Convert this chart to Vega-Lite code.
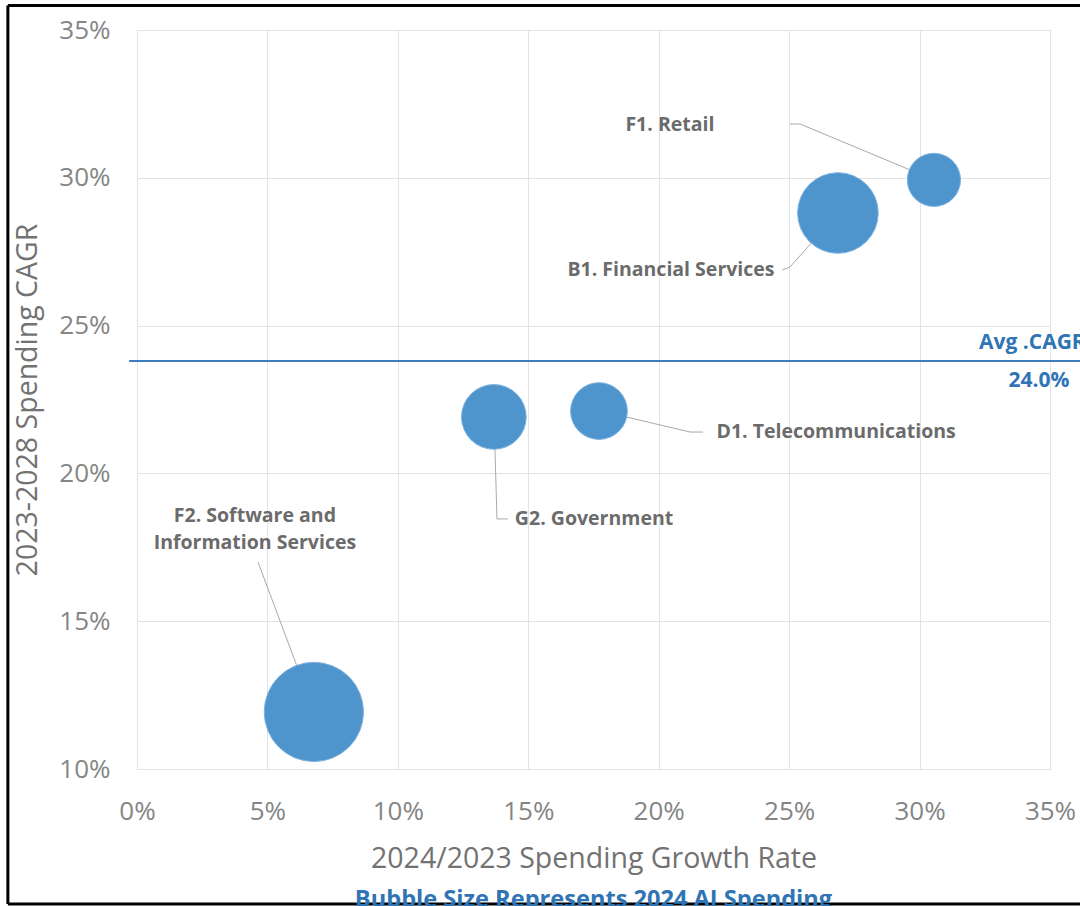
{
  "$schema": "https://vega.github.io/schema/vega-lite/v6.json",
  "width": 913,
  "height": 739,
  "autosize": {"type": "none"},
  "padding": {"left": 137, "top": 30, "right": 30, "bottom": 137},
  "background": "white",
  "config": {
    "font": "Open Sans",
    "view": {"stroke": "#d9d9d9", "strokeWidth": 1},
    "axis": {
      "domain": false,
      "ticks": false,
      "gridColor": "#e3e3e3",
      "labelColor": "#858585",
      "labelFont": "Open Sans",
      "labelFontSize": 26,
      "labelFlush": false,
      "labelOverlap": false,
      "titleColor": "#727272",
      "titleFont": "Open Sans",
      "titleFontSize": 28.5,
      "titleFontWeight": "normal"
    }
  },
  "title": {
    "text": "Bubble Size Represents 2024 AI Spending",
    "orient": "bottom",
    "anchor": "middle",
    "color": "#2f74b5",
    "fontSize": 23.6,
    "fontWeight": "bold",
    "font": "Open Sans",
    "offset": -18
  },
  "datasets": {
    "bubbles": [
      {"industry": "F1. Retail", "growth": 0.3055, "cagr": 0.2993, "spending": 28.7},
      {"industry": "B1. Financial Services", "growth": 0.2687, "cagr": 0.2881, "spending": 66},
      {"industry": "D1. Telecommunications", "growth": 0.1771, "cagr": 0.2211, "spending": 32.7},
      {"industry": "G2. Government", "growth": 0.1368, "cagr": 0.2191, "spending": 42.5},
      {"industry": "F2. Software and Information Services", "growth": 0.0678, "cagr": 0.1193, "spending": 100}
    ],
    "leaders": [
      {"industry": "F1", "seq": 1, "x": 0.2503, "y": 0.3182},
      {"industry": "F1", "seq": 2, "x": 0.2542, "y": 0.3182},
      {"industry": "F1", "seq": 3, "x": 0.3055, "y": 0.2993},
      {"industry": "B1", "seq": 1, "x": 0.2473, "y": 0.2688},
      {"industry": "B1", "seq": 2, "x": 0.2503, "y": 0.2698},
      {"industry": "B1", "seq": 3, "x": 0.2687, "y": 0.2881},
      {"industry": "D1", "seq": 1, "x": 0.1779, "y": 0.2211},
      {"industry": "D1", "seq": 2, "x": 0.2120, "y": 0.2140},
      {"industry": "D1", "seq": 3, "x": 0.2170, "y": 0.2140},
      {"industry": "G2", "seq": 1, "x": 0.1369, "y": 0.2181},
      {"industry": "G2", "seq": 2, "x": 0.1380, "y": 0.1846},
      {"industry": "G2", "seq": 3, "x": 0.1422, "y": 0.1846},
      {"industry": "F2", "seq": 1, "x": 0.0464, "y": 0.1700},
      {"industry": "F2", "seq": 2, "x": 0.0679, "y": 0.1193}
    ],
    "labels": [
      {"label": "F1. Retail", "x": 0.2043, "y": 0.3179},
      {"label": "B1. Financial Services", "x": 0.2047, "y": 0.2688},
      {"label": "D1. Telecommunications", "x": 0.2680, "y": 0.2140},
      {"label": "G2. Government", "x": 0.1752, "y": 0.1846},
      {"label": "F2. Software and\nInformation Services", "x": 0.0452, "y": 0.1856}
    ],
    "avg": [
      {"name": "Avg .CAGR", "value": 0.238, "display": "24.0%", "xstart": -0.003, "xend": 0.37}
    ]
  },
  "layer": [
    {
      "data": {"name": "avg"},
      "mark": {"type": "rule", "color": "#3c7dbd", "strokeWidth": 2, "clip": false},
      "encoding": {
        "x": {"field": "xstart", "type": "quantitative",
          "scale": {"domain": [0, 0.35], "nice": false},
          "axis": {"format": ".0%", "values": [0, 0.05, 0.1, 0.15, 0.2, 0.25, 0.3, 0.35], "labelPadding": 29, "titlePadding": 20},
          "title": "2024/2023 Spending Growth Rate"},
        "x2": {"field": "xend"},
        "y": {"field": "value", "type": "quantitative",
          "scale": {"domain": [0.1, 0.35], "nice": false, "zero": false},
          "axis": {"format": ".0%", "values": [0.1, 0.15, 0.2, 0.25, 0.3, 0.35], "labelPadding": 27, "titlePadding": 16},
          "title": "2023-2028 Spending CAGR"}
      }
    },
    {
      "data": {"name": "leaders"},
      "mark": {"type": "line", "color": "#a9a9a9", "strokeWidth": 1},
      "encoding": {
        "x": {"field": "x", "type": "quantitative"},
        "y": {"field": "y", "type": "quantitative"},
        "detail": {"field": "industry"},
        "order": {"field": "seq"}
      }
    },
    {
      "data": {"name": "bubbles"},
      "mark": {"type": "circle", "color": "#4e94cd", "opacity": 1, "stroke": "#7fb3e0", "strokeWidth": 1},
      "encoding": {
        "x": {"field": "growth", "type": "quantitative"},
        "y": {"field": "cagr", "type": "quantitative"},
        "size": {"field": "spending", "type": "quantitative",
          "scale": {"domain": [0, 100], "range": [0, 9852], "zero": true}, "legend": null}
      }
    },
    {
      "data": {"name": "leaders"},
      "transform": [{"filter": "datum.seq === 3 || (datum.industry === 'F2' && datum.seq === 2)"}],
      "mark": {"type": "line", "color": "#a9a9a9", "strokeWidth": 1, "opacity": 0},
      "encoding": {
        "x": {"field": "x", "type": "quantitative"},
        "y": {"field": "y", "type": "quantitative"}
      }
    },
    {
      "data": {"name": "labels"},
      "mark": {"type": "text", "color": "#6b6b6b", "fontWeight": "bold", "fontSize": 19.5, "font": "Open Sans", "align": "center", "baseline": "middle", "lineBreak": "\n", "lineHeight": 27},
      "encoding": {
        "x": {"field": "x", "type": "quantitative"},
        "y": {"field": "y", "type": "quantitative"},
        "text": {"field": "label"}
      }
    },
    {
      "data": {"name": "avg"},
      "mark": {"type": "text", "color": "#2f74b5", "fontWeight": "bold", "fontSize": 21, "font": "Open Sans", "align": "left", "baseline": "bottom", "dy": -8, "dx": 0, "clip": false},
      "encoding": {
        "x": {"datum": 0.3228},
        "y": {"field": "value", "type": "quantitative"},
        "text": {"field": "name"}
      }
    },
    {
      "data": {"name": "avg"},
      "mark": {"type": "text", "color": "#2f74b5", "fontWeight": "bold", "fontSize": 21, "font": "Open Sans", "align": "center", "baseline": "top", "dy": 9, "clip": false},
      "encoding": {
        "x": {"datum": 0.3458},
        "y": {"field": "value", "type": "quantitative"},
        "text": {"field": "display"}
      }
    },
    {
      "data": {"values": [{"edge": "left", "x1": -0.0495, "x2": -0.0495, "y1": 0.3583, "y2": 0.0543}, {"edge": "top", "x1": -0.0495, "x2": 0.37, "y1": 0.3583, "y2": 0.3583}, {"edge": "bottom", "x1": -0.0495, "x2": 0.37, "y1": 0.0543, "y2": 0.0543}]},
      "mark": {"type": "rule", "color": "black", "strokeWidth": 3, "clip": false},
      "encoding": {
        "x": {"field": "x1", "type": "quantitative"},
        "x2": {"field": "x2"},
        "y": {"field": "y1", "type": "quantitative"},
        "y2": {"field": "y2"}
      }
    }
  ]
}
